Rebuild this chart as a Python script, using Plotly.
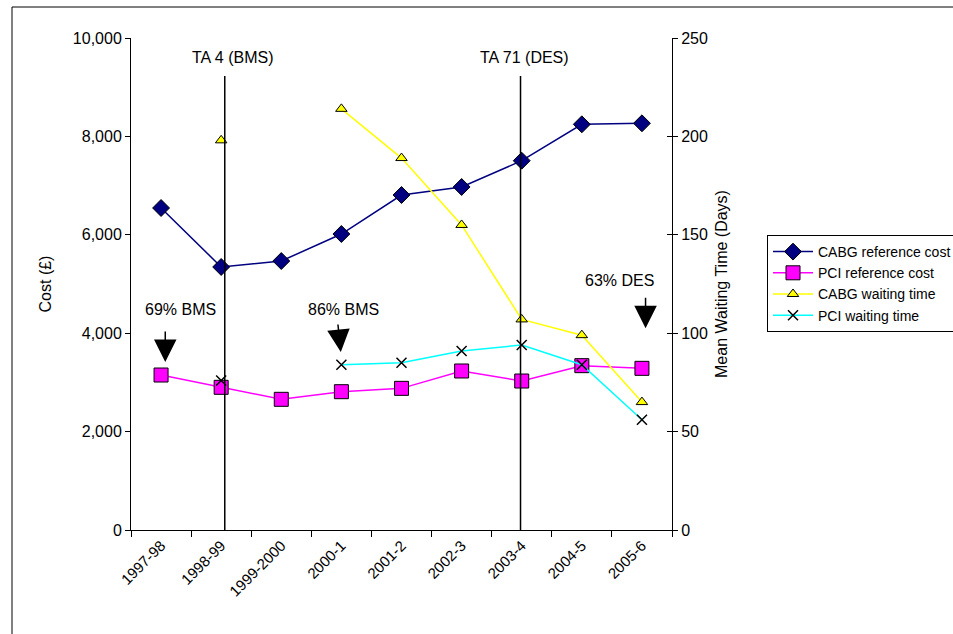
import plotly.graph_objects as go

years = ["1997-98", "1998-99", "1999-2000", "2000-1", "2001-2", "2002-3", "2003-4", "2004-5", "2005-6"]
cabg_cost = [6545, 5346, 5467, 6016, 6809, 6972, 7506, 8246, 8266]
pci_cost = [3150, 2900, 2656, 2811, 2879, 3232, 3028, 3340, 3286]
cabg_wait = [None, 198, None, 214, 189, 155, 107, 99, 65]
pci_wait = [None, 76, None, 84, 85, 91, 94, 84, 56]
wait_ticks = [0, 50, 100, 150, 200, 250]

FONT = "Liberation Sans, Arial, sans-serif"

fig = go.Figure()
fig.add_trace(go.Scatter(x=years, y=cabg_cost, name="CABG reference cost", mode="lines+markers",
                         line=dict(color="#000080", width=1.5),
                         marker=dict(symbol="diamond", size=13, color="#000080", line=dict(color="black", width=1)),
                         yaxis="y"))
fig.add_trace(go.Scatter(x=years, y=pci_cost, name="PCI reference cost", mode="lines+markers",
                         line=dict(color="#FF00FF", width=1.5),
                         marker=dict(symbol="square", size=14, color="#FF00FF", line=dict(color="black", width=1)),
                         yaxis="y"))
fig.add_trace(go.Scatter(x=years, y=cabg_wait, name="CABG waiting time", mode="lines+markers",
                         line=dict(color="#FFFF00", width=1.5), connectgaps=False,
                         marker=dict(symbol="triangle-up", size=10, color="#FFFF00", line=dict(color="black", width=1)),
                         yaxis="y2"))
fig.add_trace(go.Scatter(x=years, y=pci_wait, name="PCI waiting time", mode="lines+markers",
                         line=dict(color="#00FFFF", width=1.5), connectgaps=False,
                         marker=dict(symbol="x-thin", size=10, color="black", line=dict(color="black", width=1.5)),
                         yaxis="y2"))
# invisible helper trace so the inner tick axis on the right is drawn
fig.add_trace(go.Scatter(x=[years[0]], y=[None], yaxis="y3", showlegend=False, hoverinfo="skip"))

W, H = 953, 634
L, T = 131, 38
pw, ph = 541, 492
R, B = W - L - pw, H - T - ph

# outer border
fig.add_shape(type="rect", xref="paper", yref="paper",
              x0=(12 - L) / pw, x1=(W + 40 - L) / pw, y0=-(B + 40) / ph, y1=(ph + T - 7) / ph,
              line=dict(color="black", width=1), fillcolor="rgba(0,0,0,0)", layer="below")

# TA vertical lines
for xv in [1.06, 5.98]:
    fig.add_shape(type="line", xref="x", yref="y", x0=xv, x1=xv, y0=0, y1=9228,
                  line=dict(color="black", width=1.5))

ann_font = dict(family=FONT, size=16, color="black")
texts = [("TA 4 (BMS)", 1.19, 9608), ("TA 71 (DES)", 6.04, 9600),
         ("69% BMS", 0.32, 4472), ("86% BMS", 3.03, 4472), ("63% DES", 7.62, 5081)]
for t, xv, yv in texts:
    fig.add_annotation(x=xv, y=yv, xref="x", yref="y", text=t, showarrow=False, font=ann_font)

arrows = [(0.07, 3415, 0, -32), (2.99, 3618, -3, -29), (8.06, 4100, 0, -32)]
for xv, yv, axv, ayv in arrows:
    fig.add_annotation(x=xv, y=yv, xref="x", yref="y", text="", showarrow=True,
                       arrowhead=2, arrowsize=3, arrowwidth=1.5, arrowcolor="black",
                       ax=axv, ay=ayv, standoff=0)

fig.update_layout(
    width=W, height=H,
    margin=dict(l=L, r=R, t=T, b=B, autoexpand=False),
    paper_bgcolor="white", plot_bgcolor="white",
    font=dict(family=FONT, size=16, color="black"),
    showlegend=True,
    legend=dict(x=(767 - L) / pw, y=(ph + T - 235) / ph, xanchor="left", yanchor="top",
                bgcolor="white", bordercolor="black", borderwidth=1,
                font=dict(family=FONT, size=14, color="black"),
                itemwidth=40, tracegroupgap=0),
    xaxis=dict(type="category", range=[-0.5, 8.5], tickson="boundaries", ticks="outside", ticklen=6,
               tickcolor="black", showline=True, linecolor="black", linewidth=1,
               tickangle=-45, showgrid=False, zeroline=False,
               tickfont=dict(family=FONT, size=15, color="black")),
    yaxis=dict(range=[0, 10000], tickvals=[0, 2000, 4000, 6000, 8000, 10000],
               ticktext=["0", "2,000", "4,000", "6,000", "8,000", "10,000"],
               ticks="outside", ticklen=5, tickcolor="black", showline=True, linecolor="black",
               showgrid=False, zeroline=False,
               title=dict(text="Cost (£)", font=dict(family=FONT, size=16), standoff=17),
               tickfont=dict(family=FONT, size=16, color="black")),
    yaxis2=dict(range=[0, 250], tickvals=wait_ticks, overlaying="y", side="right",
                ticks="outside", ticklen=5, tickcolor="black", showline=True, linecolor="black",
                showgrid=False, zeroline=False,
                title=dict(text="Mean Waiting Time (Days)", font=dict(family=FONT, size=16), standoff=8),
                tickfont=dict(family=FONT, size=16, color="black")),
    yaxis3=dict(range=[0, 250], tickvals=wait_ticks, overlaying="y", side="right",
                ticks="inside", ticklen=5, tickcolor="black", showline=False,
                showticklabels=False, showgrid=False, zeroline=False),
)

fig.write_html("out.html", config={"displayModeBar": False},
               post_script="document.body.style.margin='0';document.body.style.overflow='hidden';")
